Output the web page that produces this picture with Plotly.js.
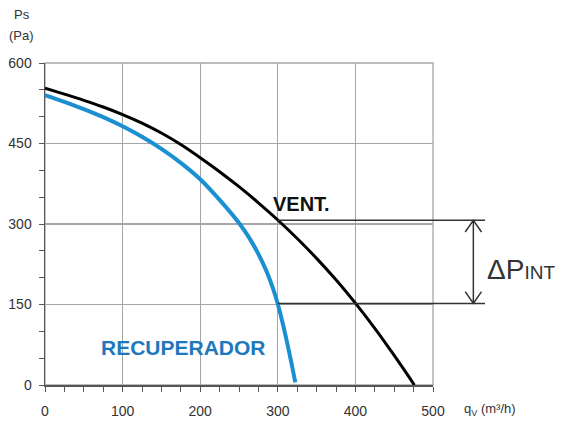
<!DOCTYPE html>
<html>
<head>
<meta charset="utf-8">
<script src="https://cdn.plot.ly/plotly-3.0.1.min.js"></script>
<style>html,body{margin:0;padding:0;background:#fff;}#chart{width:564px;height:425px;}</style>
</head>
<body>
<div id="chart"></div>
<script>
// Fan curve (VENT.)
const ventQ  = [0, 25, 50, 75, 100, 125, 150, 175, 200, 225, 250, 275, 300, 325, 350, 375, 400, 425, 450, 476];
const ventPs = [553, 542, 530.5, 518, 504, 488, 469.5, 448, 423.5, 397.5, 369.5, 339.5, 307.5, 273, 236, 196, 152.5, 105.5, 55, 0];
// Heat recovery unit curve (RECUPERADOR)
const recQ  = [0, 25, 50, 75, 100, 125, 150, 175, 200, 225, 250, 262, 275, 286, 294, 300, 306, 312, 316.5, 321, 322.5];
const recPs = [540, 527.5, 514, 499, 482, 462.5, 440, 414, 383.5, 345, 302, 277, 244, 210, 179, 151, 117, 79, 48.5, 16, 5];
// Operating point pressure levels
const pVent = 307;
const pRec = 152;
const xTicks = [0, 100, 200, 300, 400, 500];
const yTicks = [0, 150, 300, 450, 600];

const axisColor = '#555';
const gridColor = '#a6a6a6';
const textColor = '#333';
const fontFam = 'Liberation Sans, Arial, sans-serif';

const traces = [
  {x: recQ, y: recPs, mode: 'lines', line: {color: '#1a8fd2', width: 4, shape: 'spline', smoothing: 1}, hoverinfo: 'skip'},
  {x: ventQ, y: ventPs, mode: 'lines', line: {color: '#000', width: 3, shape: 'spline', smoothing: 1}, hoverinfo: 'skip'}
];

// arrow geometry (paper x, data y)
const ax = 1.104, aw = 0.021, ah = 22;
const layout = {
  width: 564, height: 425,
  margin: {l: 45, r: 131, t: 63, b: 40},
  paper_bgcolor: '#fff', plot_bgcolor: '#fff',
  showlegend: false,
  font: {family: fontFam, color: textColor, size: 14},
  xaxis: {
    range: [0, 500], tickvals: xTicks, ticktext: xTicks.map(String),
    showgrid: true, gridcolor: gridColor, gridwidth: 1.3,
    showline: true, linecolor: axisColor, linewidth: 1.5,
    ticks: 'outside', ticklen: 5, tickcolor: axisColor, tickwidth: 1,
    ticklabelstandoff: 8,
    minor: {dtick: 25, ticks: 'outside', ticklen: 5, tickcolor: axisColor, showgrid: false},
    zeroline: false, tickfont: {size: 14, color: textColor}, fixedrange: true
  },
  yaxis: {
    range: [0, 600], tickvals: yTicks, ticktext: yTicks.map(String),
    showgrid: true, gridcolor: gridColor, gridwidth: 1.3,
    showline: true, linecolor: axisColor, linewidth: 1.5,
    ticks: 'outside', ticklen: 5, tickcolor: axisColor, tickwidth: 1,
    ticklabelstandoff: 4,
    minor: {dtick: 50, ticks: 'outside', ticklen: 5, tickcolor: axisColor, showgrid: false},
    zeroline: false, tickfont: {size: 14, color: textColor}, fixedrange: true
  },
  shapes: [
    {type: 'rect', xref: 'paper', yref: 'paper', x0: 0, x1: 1, y0: 0, y1: 1, line: {color: gridColor, width: 1.3}, layer: 'below'},
    {type: 'line', xref: 'paper', yref: 'y', x0: 0.6, x1: 1.134, y0: pVent, y1: pVent, line: {color: '#333', width: 1.6}},
    {type: 'line', xref: 'paper', yref: 'y', x0: 0.6, x1: 1.134, y0: pRec, y1: pRec, line: {color: '#333', width: 1.6}},
    {type: 'path', xref: 'paper', yref: 'y',
      path: `M${ax},${pVent} L${ax},${pRec} M${ax-aw},${pVent-ah} L${ax},${pVent} L${ax+aw},${pVent-ah} M${ax-aw},${pRec+ah} L${ax},${pRec} L${ax+aw},${pRec+ah}`,
      line: {color: '#333', width: 1.5}}
  ],
  annotations: [
    {xref: 'paper', yref: 'paper', x: -0.06, y: 1.15, text: 'Ps', showarrow: false, font: {size: 13, color: textColor}, xanchor: 'center', yanchor: 'middle'},
    {xref: 'paper', yref: 'paper', x: -0.06, y: 1.085, text: '(Pa)', showarrow: false, font: {size: 13, color: textColor}, xanchor: 'center', yanchor: 'middle'},
    {xref: 'paper', yref: 'paper', x: 1.075, y: -0.075, text: 'q<sub>V</sub> (m³/h)', showarrow: false, font: {size: 13, color: textColor}, xanchor: 'left', yanchor: 'middle'},
    {xref: 'x', yref: 'y', x: 331, y: 337, text: '<b>VENT.</b>', showarrow: false, font: {size: 20, color: '#111'}, xanchor: 'center', yanchor: 'middle'},
    {xref: 'x', yref: 'y', x: 178, y: 70, text: '<b>RECUPERADOR</b>', showarrow: false, font: {size: 21, color: '#1d78bd'}, xanchor: 'center', yanchor: 'middle'},
    {xref: 'paper', yref: 'paper', x: 1.228, y: 0.36, text: 'ΔP<span style="font-size:19px">INT</span>', showarrow: false, font: {size: 28, color: '#333'}, xanchor: 'center', yanchor: 'middle'}
  ]
};

Plotly.newPlot('chart', traces, layout, {staticPlot: true, displayModeBar: false});
</script>
</body>
</html>
